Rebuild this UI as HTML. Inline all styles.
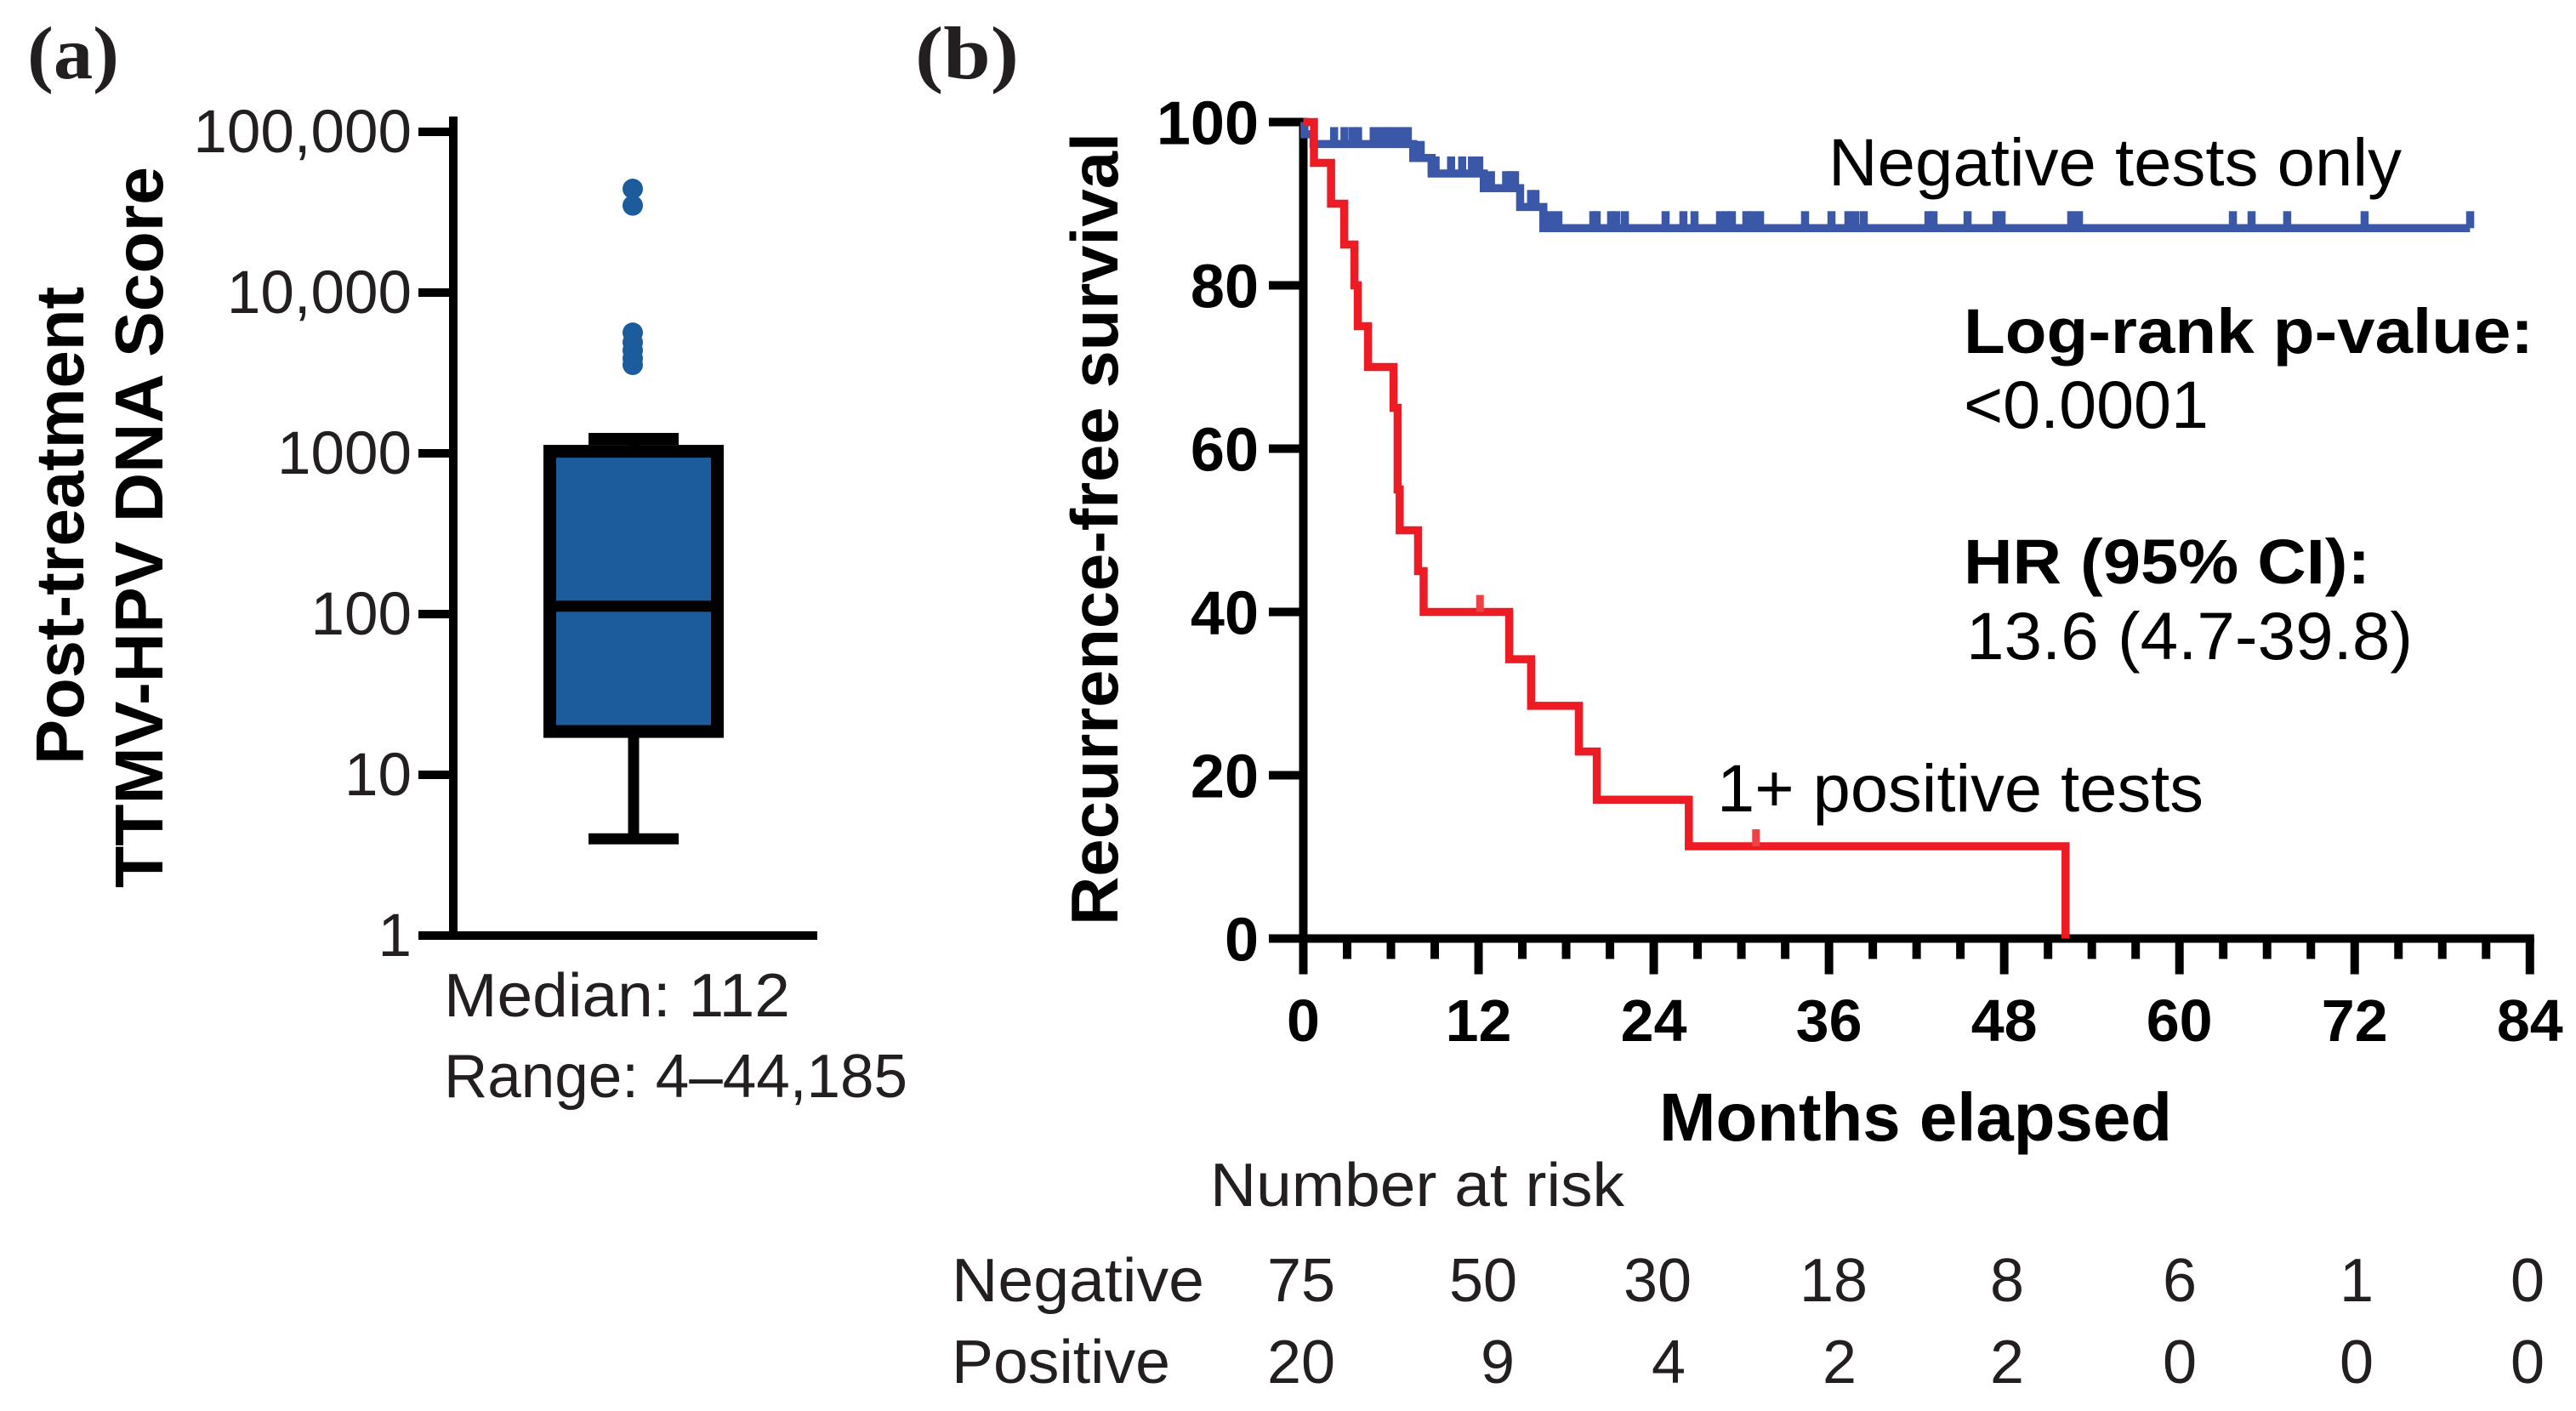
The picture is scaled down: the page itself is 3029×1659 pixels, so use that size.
<!DOCTYPE html>
<html lang="en">
<head>
<meta charset="utf-8">
<title>TTMV-HPV DNA score and recurrence-free survival</title>
<style>
html,body{margin:0;padding:0;background:#fff;width:3029px;height:1659px;overflow:hidden}
svg{display:block}
text{font-family:"Liberation Sans",Arial,sans-serif;fill:#000}
.bold{font-weight:700}
.soft{fill:#231f20}
.panel{font-family:"Liberation Serif",serif;font-weight:700;fill:#231f20;font-size:88px}
</style>
</head>
<body>
<svg id="figure" xmlns="http://www.w3.org/2000/svg" width="3029" height="1659" viewBox="0 0 3029 1659">
  <rect x="0" y="0" width="3029" height="1659" fill="#fff"/>

  <text class="panel" x="32" y="92" textLength="108" lengthAdjust="spacingAndGlyphs">(a)</text>
  <text class="panel" x="1076" y="92" textLength="122" lengthAdjust="spacingAndGlyphs">(b)</text>

  <g id="panelA"></g>
  <text class="bold" font-size="80" transform="translate(98,899) rotate(-90)" textLength="562" lengthAdjust="spacingAndGlyphs">Post-treatment</text>
  <text class="bold" font-size="80" transform="translate(191,1044) rotate(-90)" textLength="848" lengthAdjust="spacingAndGlyphs">TTMV-HPV DNA Score</text>
  <text class="soft" font-size="72" x="522" y="1195" textLength="407" lengthAdjust="spacingAndGlyphs">Median: 112</text>
  <text class="soft" font-size="72" x="522" y="1290" textLength="545" lengthAdjust="spacingAndGlyphs">Range: 4–44,185</text>

  <g id="panelB"></g>
  <text class="bold" font-size="78" transform="translate(1314,1088) rotate(-90)" textLength="932" lengthAdjust="spacingAndGlyphs">Recurrence-free survival</text>
  <text class="bold" font-size="80" x="1951" y="1341" textLength="603" lengthAdjust="spacingAndGlyphs">Months elapsed</text>
  <text font-size="79" x="2150" y="218" textLength="674" lengthAdjust="spacingAndGlyphs">Negative tests only</text>
  <text font-size="79" x="2019" y="954" textLength="572" lengthAdjust="spacingAndGlyphs">1+ positive tests</text>
  <text class="bold" font-size="74" x="2309" y="415" textLength="670" lengthAdjust="spacingAndGlyphs">Log-rank p-value:</text>
  <text font-size="79" x="2309" y="503" textLength="288" lengthAdjust="spacingAndGlyphs">&lt;0.0001</text>
  <text class="bold" font-size="74" x="2309" y="686" textLength="478" lengthAdjust="spacingAndGlyphs">HR (95% CI):</text>
  <text font-size="79" x="2312" y="775" textLength="525" lengthAdjust="spacingAndGlyphs">13.6 (4.7-39.8)</text>

  <g font-size="72">
    <text class="soft" x="1423" y="1418" textLength="487" lengthAdjust="spacingAndGlyphs">Number at risk</text>
    <text class="soft" x="1119" y="1530" textLength="297" lengthAdjust="spacingAndGlyphs">Negative</text>
    <text class="soft" x="1119" y="1626" textLength="257" lengthAdjust="spacingAndGlyphs">Positive</text>
    <g text-anchor="middle">
      <text class="soft" x="1530" y="1530">75</text>
      <text class="soft" x="1744" y="1530">50</text>
      <text class="soft" x="1949" y="1530">30</text>
      <text class="soft" x="2156" y="1530">18</text>
      <text class="soft" x="2360" y="1530">8</text>
      <text class="soft" x="2563" y="1530">6</text>
      <text class="soft" x="2771" y="1530">1</text>
      <text class="soft" x="2972" y="1530">0</text>
    </g>
    <g text-anchor="middle">
      <text class="soft" x="1530" y="1626">20</text>
      <text class="soft" x="1761" y="1626">9</text>
      <text class="soft" x="1962" y="1626">4</text>
      <text class="soft" x="2163" y="1626">2</text>
      <text class="soft" x="2360" y="1626">2</text>
      <text class="soft" x="2563" y="1626">0</text>
      <text class="soft" x="2771" y="1626">0</text>
      <text class="soft" x="2972" y="1626">0</text>
    </g>
  </g>
</svg>
<script>
// Panel (a) data
var scoreTickValues = [1, 10, 100, 1000, 10000, 100000];
var scoreTickLabels = ['1', '10', '100', '1000', '10,000', '100,000'];
var boxQ1 = 18.6;
var boxMedian = 112;
var boxQ3 = 1030;
var whiskerLow = 4;
var whiskerHigh = 1230;
var outlierValues = [44185, 34800, 5630, 4900, 4370, 3900, 3550];

// Panel (b) data
var survivalTickValues = [0, 20, 40, 60, 80, 100];
var monthTickValues = [0, 12, 24, 36, 48, 60, 72, 84];
var monthMinorTicks = [3, 6, 9, 15, 18, 21, 27, 30, 33, 39, 42, 45, 51, 54, 57, 63, 66, 69, 75, 78, 81];
var negativeEventMonths = [0.08, 0.7, 7.53, 8.79, 12.36, 14.85, 16.44];
var negativeEventSurvival = [98.5, 97.3, 95.6, 93.7, 91.9, 89.6, 87.0];
var negativeEndMonth = 79.9;
var negativeCensorMonths = [2.11, 2.82, 3.39, 3.75, 4.82, 5.29, 5.76, 6.22, 6.69, 7.16, 7.53, 8.04, 8.79, 9.06, 10.12, 10.88, 11.55, 12.05, 12.85, 13.89, 14.2, 14.5, 15.6, 15.9, 16.95, 17.47, 19.86, 20.09, 21.08, 21.43, 22.02, 24.81, 26.03, 26.79, 28.54, 29.0, 29.35, 30.34, 30.75, 31.28, 34.36, 36.17, 37.33, 37.8, 38.38, 42.81, 43.16, 45.49, 47.47, 47.82, 52.59, 53.12, 63.66, 64.94, 67.38, 72.68, 79.91];
var positiveEventMonths = [0.73, 1.9, 2.8, 3.5, 3.73, 4.43, 6.18, 6.46, 6.6, 7.86, 8.24, 14.1, 15.6, 18.87, 20.1, 26.4, 52.2];
var positiveEventSurvival = [95, 90, 85, 80, 75, 70, 65, 55, 50, 45, 40, 34.2, 28.5, 22.9, 17, 11.3, 0];
var positiveCensorMonths = [12.1, 31];

var SVGNS = 'http://www.w3.org/2000/svg';
function mk(parent, tag, attrs, txt) {
  var el = document.createElementNS(SVGNS, tag);
  for (var k in attrs) el.setAttribute(k, attrs[k]);
  if (txt !== undefined) el.textContent = txt;
  parent.appendChild(el);
  return el;
}

// Panel (a) scales and drawing
var panelA = document.getElementById('panelA');
function yScore(v) { return 1100 - 189 * Math.log10(v); }
var boxCx = 745;
var el;

el = mk(panelA, 'line', {x1: 533, x2: 533, y1: 137, y2: 1105, stroke: '#000', 'stroke-width': 10});


el = mk(panelA, 'line', {x1: 492, x2: 961, y1: yScore(1), y2: yScore(1), stroke: '#000', 'stroke-width': 10});



scoreTickValues.forEach(function (v, i) {
  var y = yScore(v);
  var t = mk(panelA, 'line', {x1: 492, x2: 533, y1: y, y2: y, stroke: '#000', 'stroke-width': 10});
  
  
  var l = mk(panelA, 'text', {x: 484, y: y + 24, 'text-anchor': 'end', 'font-size': 71, class: 'soft'}, scoreTickLabels[i]);
  
  
});

el = mk(panelA, 'line', {x1: boxCx, x2: boxCx, y1: yScore(whiskerLow), y2: yScore(boxQ1), stroke: '#000', 'stroke-width': 13});


el = mk(panelA, 'line', {x1: boxCx - 53, x2: boxCx + 53, y1: yScore(whiskerLow), y2: yScore(whiskerLow), stroke: '#000', 'stroke-width': 13});


el = mk(panelA, 'line', {x1: boxCx - 53, x2: boxCx + 53, y1: yScore(whiskerHigh), y2: yScore(whiskerHigh), stroke: '#000', 'stroke-width': 14});


el = mk(panelA, 'line', {x1: boxCx, x2: boxCx, y1: yScore(whiskerHigh), y2: yScore(boxQ3), stroke: '#000', 'stroke-width': 13});


el = mk(panelA, 'rect', {x: 646.5, width: 197, y: yScore(boxQ3), height: yScore(boxQ1) - yScore(boxQ3), fill: '#1d5c9c', stroke: '#000', 'stroke-width': 15});


el = mk(panelA, 'line', {x1: 647, x2: 843, y1: yScore(boxMedian), y2: yScore(boxMedian), stroke: '#000', 'stroke-width': 13});



outlierValues.forEach(function (v) {
  var c = mk(panelA, 'circle', {cx: 744, cy: yScore(v), r: 12, fill: '#1d5c9c'});
  
  
});

// Panel (b) scales and drawing
var panelB = document.getElementById('panelB');
function xMonth(m) { return 1532.5 + 17.17 * m; }
function ySurv(s) { return 1103.5 - 9.6 * s; }

function stepPath(months, surv, endMonth) {
  var d = 'M' + xMonth(0) + ' ' + ySurv(100);
  for (var i = 0; i < months.length; i++) {
    d += ' H' + xMonth(months[i]) + ' V' + ySurv(surv[i]);
  }
  if (endMonth !== null) d += ' H' + xMonth(endMonth);
  return d;
}
function levelAt(months, surv, m) {
  var s = 100;
  for (var i = 0; i < months.length; i++) { if (months[i] <= m) s = surv[i]; }
  return s;
}

el = mk(panelB, 'line', {x1: xMonth(0), x2: xMonth(0), y1: ySurv(100) - 5, y2: ySurv(0) + 42, stroke: '#000', 'stroke-width': 10});


el = mk(panelB, 'line', {x1: 1492, x2: xMonth(84) + 5, y1: ySurv(0), y2: ySurv(0), stroke: '#000', 'stroke-width': 10});



survivalTickValues.forEach(function (v) {
  var y = ySurv(v);
  var t = mk(panelB, 'line', {x1: 1492, x2: xMonth(0), y1: y, y2: y, stroke: '#000', 'stroke-width': 10});
  
  
  var l = mk(panelB, 'text', {x: 1480, y: y + 26, 'text-anchor': 'end', 'font-size': 72, class: 'bold'}, String(v));
  
  
});
monthTickValues.forEach(function (m) {
  var x = xMonth(m);
  var t = mk(panelB, 'line', {x1: x, x2: x, y1: ySurv(0), y2: ySurv(0) + 42, stroke: '#000', 'stroke-width': 10});
  
  
  var l = mk(panelB, 'text', {x: x, y: 1224, 'text-anchor': 'middle', 'font-size': 70, class: 'bold'}, String(m));
  
  
});
monthMinorTicks.forEach(function (m) {
  var x = xMonth(m);
  var t = mk(panelB, 'line', {x1: x, x2: x, y1: ySurv(0), y2: ySurv(0) + 24, stroke: '#000', 'stroke-width': 10});
  
  
});

el = mk(panelB, 'path', {d: stepPath(negativeEventMonths, negativeEventSurvival, negativeEndMonth), fill: 'none', stroke: '#3b57a7', 'stroke-width': 9.5, 'stroke-linejoin': 'miter'});


negativeCensorMonths.forEach(function (m) {
  var y = ySurv(levelAt(negativeEventMonths, negativeEventSurvival, m));
  var t = mk(panelB, 'line', {x1: xMonth(m), x2: xMonth(m), y1: y - 20, y2: y, stroke: '#3b57a7', 'stroke-width': 9.5});
  
  
});

el = mk(panelB, 'path', {d: stepPath(positiveEventMonths, positiveEventSurvival, null), fill: 'none', stroke: '#ed1c24', 'stroke-width': 9.5, 'stroke-linejoin': 'miter'});


positiveCensorMonths.forEach(function (m) {
  var y = ySurv(levelAt(positiveEventMonths, positiveEventSurvival, m));
  var t = mk(panelB, 'line', {x1: xMonth(m), x2: xMonth(m), y1: y - 20, y2: y, stroke: '#ef4045', 'stroke-width': 9});
  
  
});
</script>
</body>
</html>
